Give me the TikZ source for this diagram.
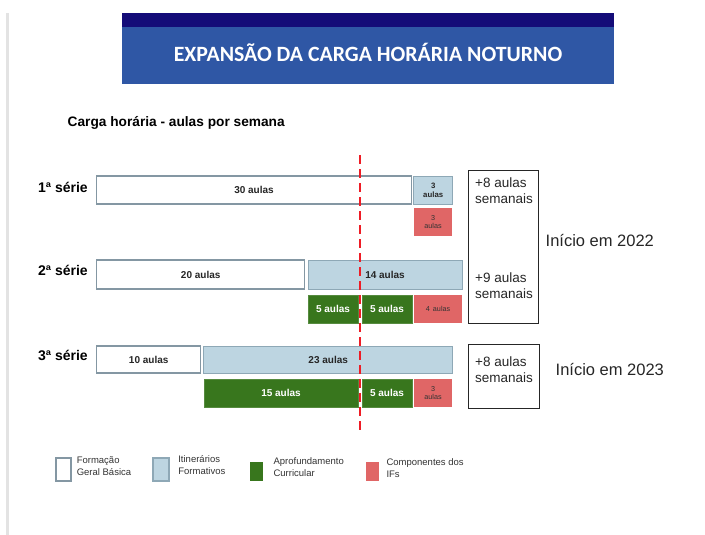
\documentclass[tikz,border=0pt]{standalone}
\usepackage{fontspec}
\setmainfont{Liberation Sans}
\newfontfamily\titlefont{Carlito}
\usetikzlibrary{positioning}

\definecolor{navy}{HTML}{140C78}
\definecolor{bannerblue}{HTML}{2F57A5}
\definecolor{ifblue}{HTML}{BDD5E1}
\definecolor{ifedge}{HTML}{8EA8B6}
\definecolor{fgbedge}{HTML}{8497A3}
\definecolor{aprgreen}{HTML}{38761D}
\definecolor{ifsred}{HTML}{E06666}
\definecolor{cutred}{HTML}{EE1C25}

\tikzset{
  bar/.style={inner sep=0pt, outer sep=0pt, align=center, text=black!85,
    font=\bfseries\fontsize{10}{11}\selectfont},
  size/.style 2 args={minimum width=#1pt, minimum height=#2pt},
  fgb/.style={bar, draw=fgbedge, line width=1.3pt, fill=white},
  itf/.style={bar, draw=ifedge, line width=1pt, fill=ifblue},
  apr/.style={bar, draw=aprgreen!85!white, line width=0.6pt, fill=aprgreen, text=white},
  ifs/.style={bar, fill=ifsred, text=black!80, font=\fontsize{7.2}{8.5}\selectfont},
  small/.style={font=\bfseries\fontsize{7.8}{9}\selectfont},
  serie/.style={anchor=west, inner sep=0pt, font=\bfseries\fontsize{14}{15}\selectfont},
  sumbox/.style={draw=black!85, line width=1pt, inner sep=0pt},
  sumtext/.style={anchor=west, inner sep=0pt, align=left, text=black!85,
    font=\fontsize{13.5}{16}\selectfont},
  start/.style={anchor=west, inner sep=0pt, text=black!85, font=\fontsize{16.5}{18}\selectfont},
  legtext/.style={inner sep=0pt, align=left, text=black!80, font=\fontsize{9.5}{12}\selectfont},
  cutline/.style={cutred, line width=2pt, dash pattern=on 9pt off 5pt}
}

\begin{document}
\begin{tikzpicture}[x=1pt,y=-1pt]
\useasboundingbox (0,0) rectangle (705,535);
\draw[line width=3pt, black!11] (7.5,13) -- (7.5,535);

% banner
\fill[navy] (122,13) rectangle (614,27.5);
\fill[bannerblue] (122,27.5) rectangle (614,84);
\node (title) at (368,52.5) {\titlefont\bfseries\fontsize{21.8}{24}\selectfont\color{white}EXPANSÃO DA CARGA HORÁRIA NOTURNO};

\node[anchor=west, inner sep=0pt, font=\bfseries\fontsize{13.7}{15}\selectfont] (sub) at (67.5,123) {Carga horária - aulas por semana};

% 1a serie
\node[serie] (s1) at (38,187) {1ª série};
\node[fgb, size={315}{28}] (w1) at (254,190) {30 aulas};
\node[itf, small, size={38.5}{28}] (b1) at (433.2,190) {3\\aulas};
\node[ifs, size={38}{28}] (r1) at (433,222) {3\\aulas};

% 2a serie
\node[serie] (s2) at (38,270) {2ª série};
\node[fgb, size={208}{29}] (w2) at (200.7,274.5) {20 aulas};
\node[itf, size={154}{29}] (b2) at (385,274.5) {14 aulas};
\node[apr, size={50}{28}] (g2a) at (333,309) {5 aulas};
\node[apr, size={50}{28}] (g2b) at (387,309) {5 aulas};
\node[ifs, size={48}{28}] (r2) at (438,309) {4\, aulas};

% 3a serie
\node[serie] (s3) at (38,355) {3ª série};
\node[fgb, size={104}{27}] (w3) at (148.7,359.5) {10 aulas};
\node[itf, size={248.5}{27}] (b3) at (328.2,359.5) {23 aulas};
\node[apr, size={154}{28}] (g3a) at (281,393) {15 aulas};
\node[apr, size={50}{28}] (g3b) at (387,393) {5 aulas};
\node[ifs, size={38}{28}] (r3) at (433,393) {3\\aulas};

% totais
\node[sumbox, size={70.5}{153.3}] (t12) at (503.5,246.7) {};
\node[sumbox, size={71}{64}] (t3) at (503.5,376) {};
\node[sumtext] (p1) at (475,191) {+8 aulas\\semanais};
\node[sumtext] (p2) at (475,285.5) {+9 aulas\\semanais};
\node[sumtext] (p3) at (475,370) {+8 aulas\\semanais};
\node[start] (i22) at (545.5,241) {Início em 2022};
\node[start] (i23) at (555.5,370) {Início em 2023};

% linha de corte
\coordinate (cuttop) at (359.5,155);
\coordinate (cutbot) at (359.5,432);
\draw[cutline] (cuttop) -- (cutbot);

% legenda
\node[draw=fgbedge, line width=1.8pt, fill=white, size={15}{23}, inner sep=0pt] (lgw) at (63.2,469.3) {};
\node[draw=ifedge, line width=1.3pt, fill=ifblue, size={16}{23}, inner sep=0pt] (lgb) at (161,469.5) {};
\node[fill=aprgreen, size={12.7}{18.7}, inner sep=0pt] (lgg) at (256.3,471.3) {};
\node[fill=ifsred, size={12.7}{19}, inner sep=0pt] (lgr) at (372.3,471.5) {};
\node[legtext, right=5pt of lgw, yshift=3pt] (lw) {Formação\\Geral Básica};
\node[legtext, right=8.5pt of lgb, yshift=4pt] (lb) {Itinerários\\Formativos};
\node[legtext, right=10.5pt of lgg, yshift=3.8pt] (lg) {Aprofundamento\\Curricular};
\node[legtext, right=7.5pt of lgr, yshift=3.5pt] (lr) {Componentes dos\\IFs};
\end{tikzpicture}
\end{document}
